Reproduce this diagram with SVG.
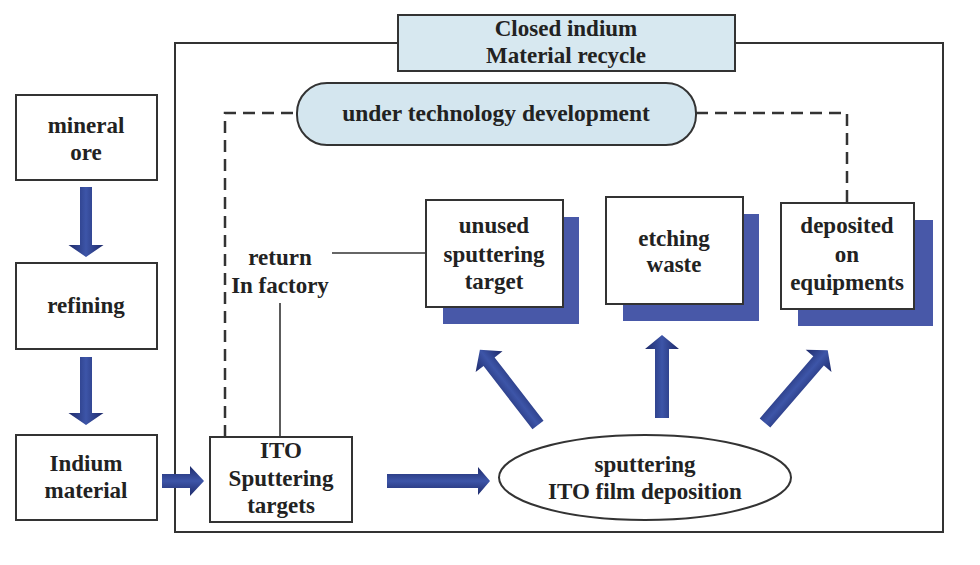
<svg xmlns="http://www.w3.org/2000/svg" width="980" height="565" viewBox="0 0 980 565">
<defs>
<linearGradient id="ag" x1="0" y1="0" x2="0" y2="1">
<stop offset="0" stop-color="#1e2a6a"/>
<stop offset="0.5" stop-color="#3d55a8"/>
<stop offset="1" stop-color="#1e2a6a"/>
</linearGradient>
<style>
.box{fill:#ffffff;stroke:#333333;stroke-width:2}
.shadow{fill:#4858a8}
.t{font-family:"Liberation Serif","Times New Roman",serif;font-weight:bold;font-size:23px;fill:#222222;text-anchor:middle}
.arr{fill:url(#ag)}
.dash{fill:none;stroke:#333333;stroke-width:2.5;stroke-dasharray:12 7}
.ln{fill:none;stroke:#333333;stroke-width:1.6}
</style>
</defs>
<rect width="980" height="565" fill="#ffffff"/>

<g id="frame">
<rect x="175" y="43" width="768" height="489" fill="none" stroke="#333333" stroke-width="2"/>
</g>

<g id="title">
<rect x="398" y="15" width="337" height="56" fill="#d7e8f0" stroke="#333333" stroke-width="2"/>
<text class="t" x="566" y="36">Closed indium</text>
<text class="t" x="566" y="63">Material recycle</text>
</g>

<g id="connectors">
<path class="dash" d="M225,437 V113 H297"/>
<path class="dash" d="M696,113 H847 V203"/>
<path class="ln" d="M332,253 H426"/>
<path class="ln" d="M280,303 V437"/>
<path class="arr" d="M0,-6 H58 V-17.5 L70,0 L58,17.5 V6 H0 Z" transform="translate(86,187) rotate(90)"/>
<path class="arr" d="M0,-6 H56 V-17.5 L68,0 L56,17.5 V6 H0 Z" transform="translate(86,357) rotate(90)"/>
<path class="arr" d="M0,-7 H28 V-15 L42,0 L28,15 V7 H0 Z" transform="translate(162,481)"/>
<path class="arr" d="M0,-7 H91 V-14 L103,0 L91,14 V7 H0 Z" transform="translate(387,481)"/>
<path class="arr" d="M0,-7 H80 V-17 L95,0 L80,17 V7 H0 Z" transform="translate(538,425) rotate(-127.7)"/>
<path class="arr" d="M0,-7 H69 V-17 L83,0 L69,17 V7 H0 Z" transform="translate(662,418) rotate(-90)"/>
<path class="arr" d="M0,-7 H82 V-17 L96,0 L82,17 V7 H0 Z" transform="translate(765,423) rotate(-49.2)"/>
</g>

<g id="tech">
<rect x="297" y="83" width="399" height="62" rx="30" ry="30" fill="#d4e6ef" stroke="#333333" stroke-width="2"/>
<text class="t" x="496" y="121" style="font-size:23.5px">under technology development</text>
</g>

<g id="mineral">
<rect class="box" x="16" y="95" width="141" height="85"/>
<text class="t" x="86" y="133">mineral</text>
<text class="t" x="86" y="160">ore</text>
</g>

<g id="refining">
<rect class="box" x="16" y="263" width="141" height="86"/>
<text class="t" x="86" y="313">refining</text>
</g>

<g id="indium">
<rect class="box" x="16" y="435" width="141" height="85"/>
<text class="t" x="86" y="471">Indium</text>
<text class="t" x="86" y="498">material</text>
</g>

<g id="ito">
<rect class="box" x="210" y="437" width="142" height="85"/>
<text class="t" x="281" y="458">ITO</text>
<text class="t" x="281" y="486">Sputtering</text>
<text class="t" x="281" y="513">targets</text>
</g>

<g id="return">
<text class="t" x="280" y="265">return</text>
<text class="t" x="280" y="293">In factory</text>
</g>

<g id="unused">
<rect class="shadow" x="443" y="217" width="136" height="107"/>
<rect class="box" x="426" y="200" width="137" height="107"/>
<text class="t" x="494" y="233">unused</text>
<text class="t" x="494" y="262">sputtering</text>
<text class="t" x="494" y="289">target</text>
</g>

<g id="etching">
<rect class="shadow" x="623" y="214" width="136" height="107"/>
<rect class="box" x="606" y="197" width="137" height="107"/>
<text class="t" x="674" y="246">etching</text>
<text class="t" x="674" y="272">waste</text>
</g>

<g id="deposited">
<rect class="shadow" x="798" y="220" width="135" height="106"/>
<rect class="box" x="781" y="203" width="133" height="106"/>
<text class="t" x="847" y="233">deposited</text>
<text class="t" x="847" y="262">on</text>
<text class="t" x="847" y="290">equipments</text>
</g>

<g id="sputtering">
<ellipse cx="645" cy="477.5" rx="146" ry="42.5" fill="#ffffff" stroke="#333333" stroke-width="2"/>
<text class="t" x="645" y="472">sputtering</text>
<text class="t" x="645" y="499">ITO film deposition</text>
</g>
</svg>
